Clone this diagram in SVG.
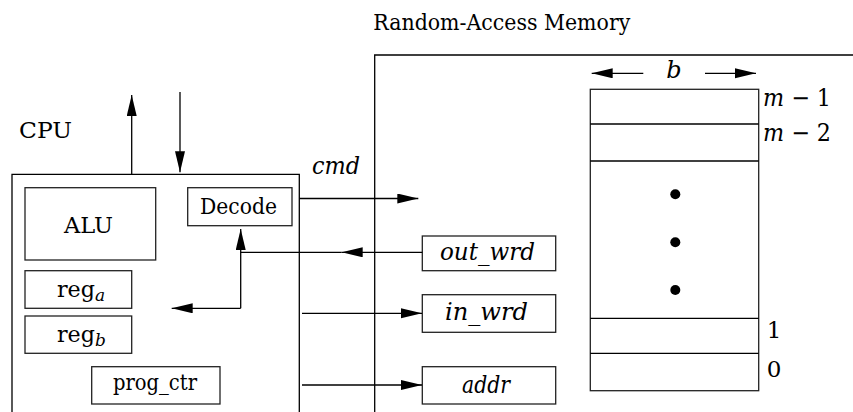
<svg xmlns="http://www.w3.org/2000/svg" width="853" height="412" viewBox="0 0 853 412" font-family="DejaVu Serif, Noto Serif, Liberation Serif, serif">
<style>
.ln{stroke:#000;stroke-width:1.3;fill:none}
.bx{stroke:#222;stroke-width:1.3;fill:#fff}
.t{font-size:23px;fill:#000}
.m{font-style:italic;font-size:24px;fill:#000}
.c{text-anchor:middle}
</style>
<defs>
<marker id="ar" markerUnits="userSpaceOnUse" markerWidth="22" markerHeight="11" refX="21" refY="5" orient="auto">
<path d="M0,0 L21,5 L0,10 z" fill="#000"/>
</marker>
</defs>
<rect width="853" height="412" fill="#fff"/>
<g id="title"><text class="t" x="373.3" y="30" textLength="257" lengthAdjust="spacingAndGlyphs">Random-Access Memory</text></g>
<g id="cpu">
<polyline class="ln" points="12,412 12,174.3 299.3,174.3 299.3,412"/>
<text class="t" x="19" y="138" textLength="53" lengthAdjust="spacingAndGlyphs">CPU</text>
</g>
<g id="ram">
<polyline class="ln" points="374.7,412 374.7,55 853,55"/>
</g>
<g id="alu"><rect class="bx" x="25" y="187.7" width="130.7" height="72.3"/><text class="t" x="64" y="233" textLength="49" lengthAdjust="spacingAndGlyphs">ALU</text></g>
<g id="decode"><rect class="bx" x="187.7" y="187.7" width="104.3" height="38"/><text class="t" x="200" y="214" textLength="77" lengthAdjust="spacingAndGlyphs">Decode</text></g>
<g id="rega"><rect class="bx" x="25" y="270.7" width="106.7" height="37.6"/><text class="t" x="57" y="296.7"><tspan textLength="38" lengthAdjust="spacingAndGlyphs">reg</tspan><tspan font-style="italic" font-size="17" dy="4">a</tspan></text></g>
<g id="regb"><rect class="bx" x="25" y="316" width="106.7" height="37.3"/><text class="t" x="57" y="341.7"><tspan textLength="38" lengthAdjust="spacingAndGlyphs">reg</tspan><tspan font-style="italic" font-size="17" dy="4">b</tspan></text></g>
<g id="progctr"><rect class="bx" x="91.7" y="366.7" width="128.3" height="37.3"/><text class="t" x="113" y="390" textLength="84" lengthAdjust="spacingAndGlyphs">prog_ctr</text></g>
<g id="outwrd"><rect class="bx" x="422.3" y="236" width="133.4" height="34.7"/><text class="m" x="440" y="260" textLength="95" lengthAdjust="spacingAndGlyphs">out_wrd</text></g>
<g id="inwrd"><rect class="bx" x="422.3" y="294.7" width="133.4" height="37.6"/><text class="m" x="445" y="320" textLength="83" lengthAdjust="spacingAndGlyphs">in_wrd</text></g>
<g id="addr"><rect class="bx" x="422.3" y="366.7" width="133.4" height="37.3"/><text class="m" x="462" y="393" textLength="48" lengthAdjust="spacingAndGlyphs">addr</text></g>
<g id="memory">
<rect class="bx" x="590.3" y="89.3" width="168.4" height="301.4"/>
<line class="ln" x1="590.3" y1="124" x2="758.7" y2="124"/>
<line class="ln" x1="590.3" y1="161" x2="758.7" y2="161"/>
<line class="ln" x1="590.3" y1="318.3" x2="758.7" y2="318.3"/>
<line class="ln" x1="590.3" y1="353.3" x2="758.7" y2="353.3"/>
<circle cx="675.3" cy="194.3" r="5" fill="#000"/>
<circle cx="675.3" cy="242.3" r="5" fill="#000"/>
<circle cx="675.3" cy="290" r="5" fill="#000"/>
<text class="m" x="763" y="106" textLength="68" lengthAdjust="spacingAndGlyphs">m<tspan font-style="normal"> − 1</tspan></text>
<text class="m" x="763" y="141" textLength="68" lengthAdjust="spacingAndGlyphs">m<tspan font-style="normal"> − 2</tspan></text>
<text class="t" x="766.7" y="337.7">1</text>
<text class="t" x="766.7" y="376.7">0</text>
<text class="m c" x="674" y="78">b</text>
</g>
<g id="connectors">
<line class="ln" x1="131.7" y1="174.3" x2="131.7" y2="95" marker-end="url(#ar)"/>
<line class="ln" x1="180" y1="92" x2="180" y2="172.3" marker-end="url(#ar)"/>
<line class="ln" x1="299.3" y1="198.5" x2="418.3" y2="198.5" marker-end="url(#ar)"/>
<text class="m" x="312" y="174" textLength="48" lengthAdjust="spacingAndGlyphs">cmd</text>
<line class="ln" x1="422.3" y1="252.3" x2="341.7" y2="252.3" marker-end="url(#ar)"/>
<line class="ln" x1="341.7" y1="252.3" x2="240.7" y2="252.3"/>
<line class="ln" x1="240.7" y1="308.3" x2="240.7" y2="229" marker-end="url(#ar)"/>
<line class="ln" x1="240.7" y1="308.3" x2="171.7" y2="308.3" marker-end="url(#ar)"/>
<line class="ln" x1="302" y1="313.3" x2="422" y2="313.3" marker-end="url(#ar)"/>
<line class="ln" x1="302" y1="385" x2="422" y2="385" marker-end="url(#ar)"/>
<line class="ln" x1="643.3" y1="73.3" x2="591.7" y2="73.3" marker-end="url(#ar)"/>
<line class="ln" x1="705" y1="73.3" x2="756" y2="73.3" marker-end="url(#ar)"/>
</g>
</svg>
